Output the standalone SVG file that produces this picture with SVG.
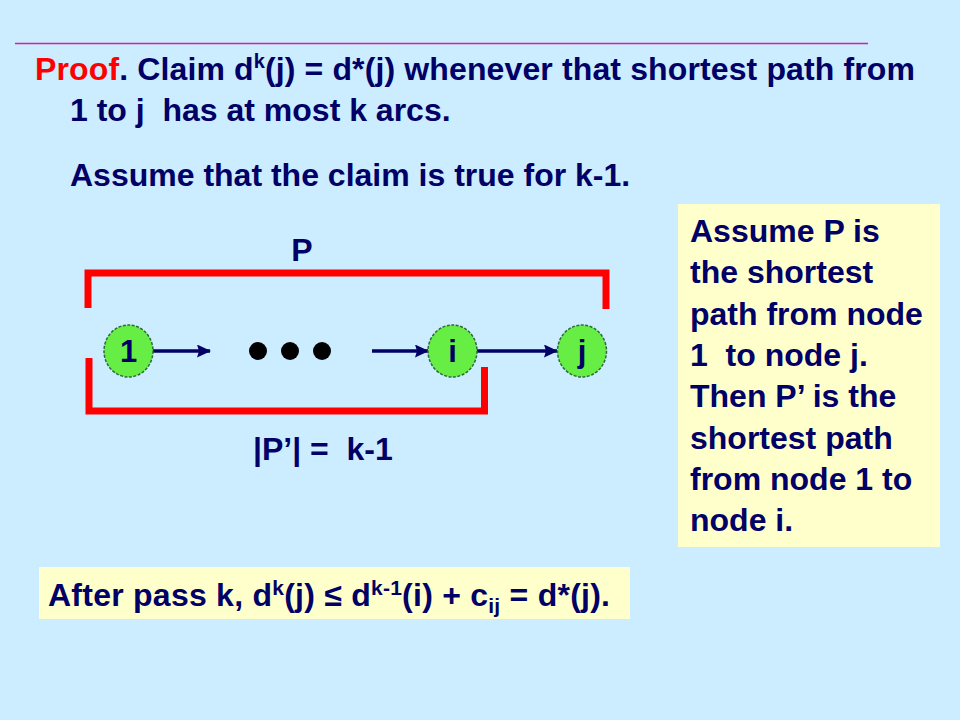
<svg xmlns="http://www.w3.org/2000/svg" width="960" height="720" viewBox="0 0 960 720">
<defs>
<style>
.t{font-family:"Liberation Sans",Arial,sans-serif;font-weight:bold;font-size:32px;fill:#000066}
.n{font-family:"Liberation Sans",Arial,sans-serif;font-weight:bold;font-size:31px;fill:#000066;text-anchor:middle}
.node{fill:#66EE44;stroke:#2E6B3A;stroke-width:1.5;stroke-dasharray:3 1.5}
.br{fill:none;stroke:#FF0000;stroke-width:7;stroke-linejoin:miter}
.arr{stroke:#000066;stroke-width:3.5;fill:none}
.dot{fill:#000000}
</style>
<marker id="ah" markerWidth="14" markerHeight="13" refX="13" refY="6.5" orient="auto" markerUnits="userSpaceOnUse" viewBox="0 0 14 13">
<path d="M0,0 L14,6.5 L0,13 L2,6.5 Z" fill="#000066"/>
</marker>
</defs>
<rect x="0" y="0" width="960" height="720" fill="#CCECFF"/>
<line x1="15" y1="43.5" x2="868" y2="43.5" stroke="#CC22AA" stroke-width="1.5"/>

<g id="heading">
<text class="t" x="35" y="80" textLength="880" lengthAdjust="spacing"><tspan fill="#FF0000">Proof</tspan>. Claim d<tspan font-size="20" dy="-12">k</tspan><tspan dy="12">(j) = d*(j) whenever that shortest path from</tspan></text>
<text class="t" x="70" y="121" xml:space="preserve">1 to j  has at most k arcs.</text>
<text class="t" x="70" y="186">Assume that the claim is true for k-1.</text>
</g>

<g id="label-P"><text class="t" x="302" y="261" text-anchor="middle">P</text></g>
<g id="label-Pprime"><text class="t" x="253" y="460" xml:space="preserve">|P’| =  k-1</text></g>

<g id="brackets">
<polyline class="br" points="88,308 88,273 606,273 606,309"/>
<polyline class="br" points="89,358 89,411 484.5,411 484.5,367"/>
</g>

<g id="connectors">
<line class="arr" x1="153" y1="351" x2="210" y2="351" marker-end="url(#ah)"/>
<line class="arr" x1="372" y1="351" x2="428" y2="351" marker-end="url(#ah)"/>
<line class="arr" x1="477" y1="351" x2="557" y2="351" marker-end="url(#ah)"/>
</g>

<g id="ellipsis">
<circle class="dot" cx="258" cy="351" r="9"/>
<circle class="dot" cx="290" cy="351" r="9"/>
<circle class="dot" cx="322" cy="351" r="9"/>
</g>

<g id="node-1">
<ellipse class="node" cx="128.5" cy="351" rx="24.5" ry="26"/>
<text class="n" x="128.5" y="362">1</text>
</g>
<g id="node-i">
<ellipse class="node" cx="452.5" cy="351" rx="24.5" ry="26"/>
<text class="n" x="452.5" y="362">i</text>
</g>
<g id="node-j">
<ellipse class="node" cx="582" cy="351" rx="24.5" ry="26"/>
<text class="n" x="582" y="362">j</text>
</g>

<g id="note-box">
<rect x="678" y="204" width="262" height="343" fill="#FFFFCC"/>
<text class="t" x="690" y="242">Assume P is</text>
<text class="t" x="690" y="283.3">the shortest</text>
<text class="t" x="690" y="324.6">path from node</text>
<text class="t" x="690" y="365.9" xml:space="preserve">1  to node j.</text>
<text class="t" x="690" y="407.2">Then P’ is the</text>
<text class="t" x="690" y="448.5">shortest path</text>
<text class="t" x="690" y="489.8">from node 1 to</text>
<text class="t" x="690" y="531.1">node i.</text>
</g>

<g id="result-box">
<rect x="39" y="567" width="591" height="52" fill="#FFFFCC"/>
<text class="t" x="48" y="606" textLength="562" lengthAdjust="spacing">After pass k, d<tspan font-size="21" dy="-11">k</tspan><tspan dy="11">(j) ≤ d</tspan><tspan font-size="21" dy="-11">k-1</tspan><tspan dy="11">(i) + c</tspan><tspan font-size="21" dy="7">ij</tspan><tspan dy="-7"> = d*(j).</tspan></text>
</g>
</svg>
